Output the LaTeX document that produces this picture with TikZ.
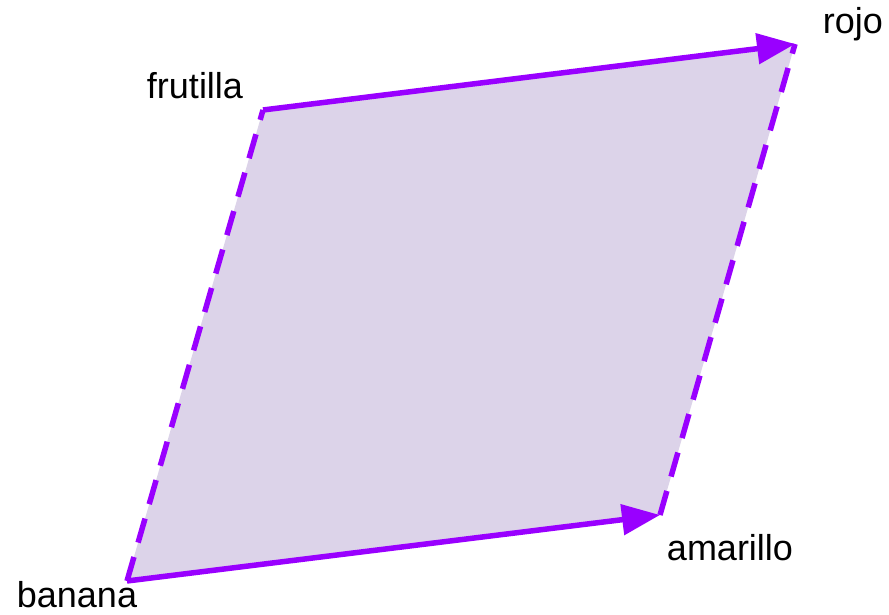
\documentclass[tikz,border=0pt]{standalone}
\usepackage{fontspec}
\setmainfont{Liberation Sans}
\usetikzlibrary{arrows.meta}
\definecolor{edgecol}{HTML}{9900FF}
\definecolor{fillcol}{HTML}{DCD3E9}
\begin{document}
\begin{tikzpicture}[x=1pt,y=-1pt,
  side/.style={draw=edgecol,line width=5.5pt},
  dashside/.style={side,dash pattern=on 25pt off 15pt},
  vec/.style={side,-{Triangle[length=38pt,width=30pt]}},
  lbl/.style={font=\fontsize{36}{43}\selectfont,text=black,inner sep=0pt}]
\useasboundingbox (0,0) rectangle (889,615);
\coordinate (B) at (127,581);
\coordinate (A) at (660,515);
\coordinate (F) at (263,110);
\coordinate (R) at (795,44);
\fill[fillcol] (B) -- (A) -- (R) -- (F) -- cycle;
\draw[dashside] (B) -- (F);
\draw[dashside] (A) -- (R);
\draw[vec] (B) -- (A);
\draw[vec] (F) -- (R);
\node[lbl] (lb) at (77,595) {banana};
\node[lbl] (la) at (730,548) {amarillo};
\node[lbl] (lf) at (195,86) {frutilla};
\node[lbl] (lr) at (853,24) {rojo};
\end{tikzpicture}
\end{document}
